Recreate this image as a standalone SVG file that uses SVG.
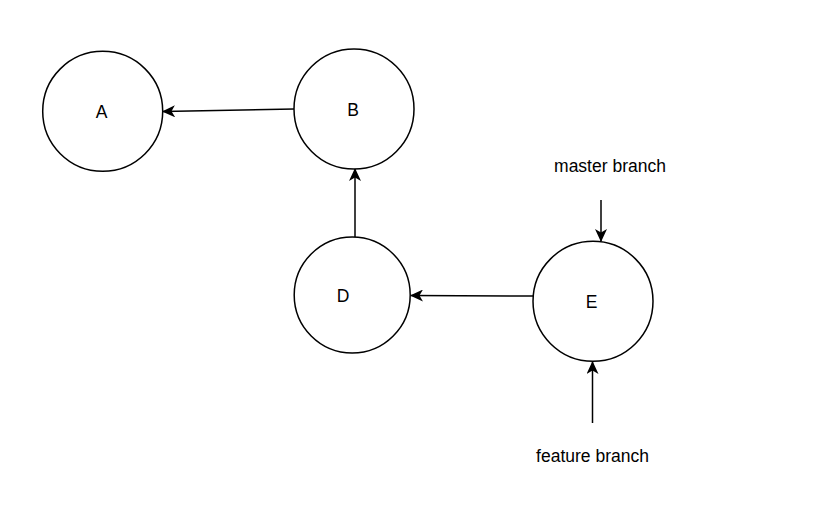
<svg xmlns="http://www.w3.org/2000/svg" width="834" height="520" viewBox="0 0 834 520">
  <style>
    .node { fill: #ffffff; stroke: #000000; stroke-width: 1.5; }
    .label { font-family: "Liberation Sans", Arial, sans-serif; font-size: 17.5px; fill: #000000; text-anchor: middle; }
    .edge { fill: none; stroke: #000000; stroke-width: 1.5; marker-end: url(#arrow); }
  </style>
  <defs>
    <marker id="arrow" viewBox="0 0 13 12" refX="12" refY="6" markerWidth="13" markerHeight="12" markerUnits="userSpaceOnUse" orient="auto">
      <path d="M0,0 L13,6 L0,12 L3.5,6 Z" fill="#000000"/>
    </marker>
  </defs>
  <rect width="834" height="520" fill="#ffffff"/>

  <g id="connectors">
    <line class="edge" x1="294" y1="109" x2="163" y2="111.5"/>
    <line class="edge" x1="355" y1="237" x2="355" y2="169"/>
    <line class="edge" x1="533" y1="296" x2="411" y2="295.5"/>
    <line class="edge" x1="601" y1="200" x2="601" y2="241"/>
    <line class="edge" x1="592.5" y1="423" x2="592.5" y2="362"/>
  </g>

  <g id="node-A">
    <circle class="node" cx="102.7" cy="111.3" r="60"/>
    <text class="label" x="101.7" y="118.3">A</text>
  </g>
  <g id="node-B">
    <circle class="node" cx="354" cy="109" r="60"/>
    <text class="label" x="353" y="115.5">B</text>
  </g>
  <g id="node-D">
    <circle class="node" cx="352.2" cy="295" r="58"/>
    <text class="label" x="343" y="302">D</text>
  </g>
  <g id="node-E">
    <circle class="node" cx="593" cy="301.3" r="60"/>
    <text class="label" x="591.7" y="308">E</text>
  </g>
  <g id="label-master">
    <text class="label" x="610" y="171.5">master branch</text>
  </g>
  <g id="label-feature">
    <text class="label" x="592.5" y="461.5">feature branch</text>
  </g>
</svg>
